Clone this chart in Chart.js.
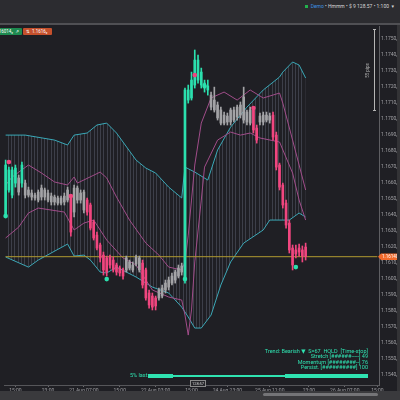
<!DOCTYPE html>
<html>
<head>
<meta charset="utf-8">
<script src="https://cdn.jsdelivr.net/npm/chart.js@4.4.0/dist/chart.umd.min.js"></script>
<style>
  html, body { margin: 0; padding: 0; background: #1f1f24; }
  #wrap { position: relative; width: 400px; height: 400px; overflow: hidden; font-family: Roboto, "DejaVu Sans", sans-serif; }
  #myChart { position: absolute; left: 0; top: 0; }
  .topbar { position: absolute; left: 0; top: 0; width: 400px; height: 23px; background: #2c2c30; border-bottom: 2px solid #505054; }
  .acct { position: absolute; right: 6px; top: 3px; font-size: 5px; color: #d8d8d8; white-space: nowrap; }
  .acct .sq { display: inline-block; width: 3px; height: 3px; background: #22b14c; margin-right: 3px; }
  .acct .demo { color: #3d8fe0; }
  .badge { position: absolute; top: 28px; height: 7px; line-height: 7px; font-size: 4.5px; color: #fff; border-radius: 1px; padding: 0 3px; white-space: nowrap; }
  .b1 { left: -14px; background: #1d8a50; width: 30px; text-align: right; }
  .b2 { left: 23px; background: #c5502c; width: 23px; }
  .ruler { position: absolute; left: 374px; top: 29px; width: 1px; height: 82px; background: #b5b5b5; }
  .ruler:before, .ruler:after { content: ""; position: absolute; left: -1px; width: 3px; height: 1px; background: #b5b5b5; }
  .ruler:before { top: 0; } .ruler:after { bottom: 0; }
  .pips { position: absolute; left: 360px; top: 68px; font-size: 4.5px; color: #b5b5b5; transform: rotate(-90deg); white-space: nowrap; }
  .stat { position: absolute; right: 32px; top: 349px; font-size: 5.5px; line-height: 5.4px; color: #2fe3b1; text-align: right; white-space: nowrap; }
  .last { position: absolute; left: 130px; top: 372px; font-size: 5.5px; color: #2fe3b1; }
  .strip { position: absolute; background: #2fe3b1; }
  .timer { position: absolute; left: 190px; top: 380px; width: 14px; height: 5px; border: 1px solid #8a8a8a; background: #26262a; font-size: 4px; line-height: 5px; color: #cfcfcf; text-align: center; }
  .bottom { position: absolute; left: 0; top: 391px; width: 400px; height: 9px; background: #3a3a3d; }
  .thumb { position: absolute; left: 263px; top: 393px; width: 115px; height: 3px; background: #747477; border-radius: 2px; }
  .vscroll { position: absolute; left: 397px; top: 25px; width: 3px; height: 366px; background: #333336; }
</style>
</head>
<body>
<div id="wrap">
  <canvas id="myChart" width="400" height="400"></canvas>
  <div class="topbar"></div>
  <div class="acct"><span class="sq"></span><span class="demo">Demo</span> • Hmmm • $ 9 128.57 • 1:100 &nbsp;▾</div>
  <div class="badge b1">1.16014₂ &nbsp;⇗</div>
  <div class="badge b2">⇅ &nbsp;1.1616₂</div>
  <div class="ruler"></div>
  <div class="pips">55 pips</div>
  <div class="vscroll"></div>
  <div class="stat">Trend: Bearish ▼ &nbsp;S=67 &nbsp;HOLD &nbsp;[Time-stop]<br>Stretch [######-----] 49<br>Momentum [########--] 76<br>Persist. [##########] 100</div>
  <div class="last">5% last</div>
  <div class="strip" style="left:148px; top:373.5px; width:25px; height:4px;"></div>
  <div class="strip" style="left:173px; top:374.5px; width:112px; height:2.5px;"></div>
  <div class="strip" style="left:285px; top:373.5px; width:83px; height:4px;"></div>
  <div class="bottom"></div>
  <div class="thumb"></div>
  <div class="timer">128:57</div>
</div>
<script>
// candles, left to right
const opens = [
  1.16400, 1.16557, 1.16525, 1.16600, 1.16632, 1.16600, 1.16600, 1.16557, 1.16538, 1.16525,
  1.16494, 1.16513, 1.16557, 1.16538, 1.16519, 1.16513, 1.16507, 1.16475, 1.16482, 1.16494,
  1.16513, 1.16419, 1.16569, 1.16494, 1.16544, 1.16494, 1.16463, 1.16357, 1.16275, 1.16213,
  1.16150, 1.16132, 1.16138, 1.16119, 1.16088, 1.16069, 1.16057, 1.16057, 1.16107, 1.16057,
  1.16094, 1.16132, 1.16100, 1.16057, 1.15913, 1.15894, 1.15882, 1.15882, 1.15894, 1.15932,
  1.15950, 1.15975, 1.15994, 1.16019, 1.16044, 1.15994, 1.17119, 1.17132, 1.17213, 1.17244,
  1.17213, 1.17194, 1.17182, 1.17150, 1.17119, 1.17088, 1.17057, 1.17025, 1.16982, 1.16982,
  1.17057, 1.17013, 1.17025, 1.16994, 1.17044, 1.16975, 1.17057, 1.16944, 1.16982, 1.17025,
  1.16994, 1.17019, 1.17025, 1.16900, 1.16713, 1.16588, 1.16475, 1.16350, 1.16194, 1.16182,
  1.16194, 1.16182, 1.16200
];
const closes = [
  1.16713, 1.16682, 1.16682, 1.16694, 1.16544, 1.16713, 1.16525, 1.16525, 1.16513, 1.16507,
  1.16544, 1.16569, 1.16513, 1.16494, 1.16482, 1.16482, 1.16475, 1.16507, 1.16519, 1.16557,
  1.16294, 1.16569, 1.16494, 1.16538, 1.16432, 1.16419, 1.16319, 1.16257, 1.16194, 1.16132,
  1.16057, 1.16044, 1.16088, 1.16057, 1.16044, 1.16038, 1.16019, 1.16132, 1.16069, 1.16088,
  1.16138, 1.16057, 1.15963, 1.15882, 1.15838, 1.15825, 1.15832, 1.15932, 1.15944, 1.15975,
  1.15994, 1.16019, 1.16044, 1.16069, 1.16082, 1.17182, 1.17182, 1.17244, 1.17369, 1.17369,
  1.17294, 1.17225, 1.17207, 1.17075, 1.17057, 1.17007, 1.16975, 1.16975, 1.17019, 1.17057,
  1.16994, 1.17075, 1.17088, 1.17138, 1.16982, 1.17057, 1.16932, 1.16869, 1.17019, 1.16982,
  1.17025, 1.16994, 1.16888, 1.16700, 1.16575, 1.16463, 1.16338, 1.16182, 1.16088, 1.16157,
  1.16169, 1.16144, 1.16140
];
const highs = [
  1.16744, 1.16700, 1.16700, 1.16713, 1.16650, 1.16732, 1.16619, 1.16575, 1.16557, 1.16538,
  1.16557, 1.16588, 1.16569, 1.16557, 1.16538, 1.16525, 1.16519, 1.16519, 1.16538, 1.16575,
  1.16525, 1.16588, 1.16582, 1.16557, 1.16557, 1.16507, 1.16475, 1.16369, 1.16294, 1.16225,
  1.16169, 1.16144, 1.16150, 1.16138, 1.16100, 1.16082, 1.16069, 1.16144, 1.16119, 1.16107,
  1.16150, 1.16144, 1.16119, 1.16069, 1.15932, 1.15913, 1.15894, 1.15944, 1.15963, 1.15994,
  1.16013, 1.16038, 1.16057, 1.16088, 1.16100, 1.17194, 1.17213, 1.17294, 1.17432, 1.17400,
  1.17319, 1.17244, 1.17244, 1.17169, 1.17200, 1.17107, 1.17075, 1.17044, 1.17038, 1.17069,
  1.17075, 1.17088, 1.17107, 1.17200, 1.17057, 1.17075, 1.17069, 1.16963, 1.17038, 1.17044,
  1.17044, 1.17038, 1.17044, 1.16919, 1.16725, 1.16600, 1.16494, 1.16369, 1.16213, 1.16213,
  1.16219, 1.16207, 1.16225
];
const lows = [
  1.16382, 1.16544, 1.16507, 1.16575, 1.16525, 1.16575, 1.16507, 1.16513, 1.16494, 1.16494,
  1.16482, 1.16494, 1.16494, 1.16482, 1.16463, 1.16463, 1.16463, 1.16463, 1.16463, 1.16482,
  1.16269, 1.16388, 1.16475, 1.16475, 1.16413, 1.16400, 1.16307, 1.16244, 1.16182, 1.16107,
  1.16025, 1.16019, 1.16069, 1.16044, 1.16025, 1.16019, 1.16000, 1.16044, 1.16057, 1.16044,
  1.16082, 1.16044, 1.15944, 1.15869, 1.15819, 1.15807, 1.15807, 1.15869, 1.15882, 1.15913,
  1.15932, 1.15963, 1.15975, 1.16007, 1.16025, 1.15975, 1.17100, 1.17119, 1.17194, 1.17225,
  1.17194, 1.17169, 1.17150, 1.17057, 1.17044, 1.16994, 1.16963, 1.16963, 1.16963, 1.16963,
  1.16982, 1.16994, 1.17007, 1.16975, 1.16963, 1.16963, 1.16913, 1.16850, 1.16963, 1.16963,
  1.16982, 1.16975, 1.16869, 1.16682, 1.16557, 1.16444, 1.16319, 1.16163, 1.16057, 1.16132,
  1.16144, 1.16107, 1.16119
];
// g = bull regime, n = neutral, p = bear regime
const regime = ('gggg' + 'n' + 'g' + 'nnnnnnnnnnnnnn' + 'p' + 'nnnn' + 'pppppppppppp' + 'nnnnn' +
  'ppppp' + 'nnnnnnnn' + 'gggggggg' + 'nnnnnnnnnnnnn' + 'pp' + 'nnnn' + 'ppppppppppp').split('');

// bands (candle index, price)
const upperOuterIdx = [0, 6, 15, 19, 21, 25, 28, 31, 34, 40, 43, 46, 50, 54, 55, 58, 62, 65, 69, 74, 79, 84, 85, 88, 90, 92];
const upperOuter = [1.16900, 1.16900, 1.16869, 1.16838, 1.16900, 1.16913, 1.16963, 1.16975, 1.16913, 1.16744, 1.16694, 1.16663, 1.16575,
  1.16507, 1.16700, 1.16669, 1.16619, 1.16807, 1.16950, 1.17075, 1.17182, 1.17263, 1.17294, 1.17357, 1.17338, 1.17257];
const lowerOuterIdx = [0, 7, 10, 19, 21, 24, 26, 29, 31, 34, 40, 45, 50, 54, 56, 58, 60, 63, 66, 69, 73, 79, 81, 87, 90, 92];
const lowerOuter = [1.16138, 1.16075, 1.16119, 1.16219, 1.16144, 1.16150, 1.16119, 1.16044, 1.16038, 1.16075, 1.16013, 1.15950, 1.15913,
  1.15825, 1.15763, 1.15694, 1.15694, 1.15775, 1.15963, 1.16107, 1.16225, 1.16307, 1.16369, 1.16369, 1.16413, 1.16388];
const upperInnerIdx = [0, 2, 7, 11, 15, 19, 21, 22, 29, 31, 34, 38, 43, 47, 50, 54, 55, 56, 57, 58, 60, 63, 67, 71, 75, 79, 84, 85, 88, 92];
const upperInner = [1.16588, 1.16638, 1.16713, 1.16663, 1.16607, 1.16588, 1.16638, 1.16600, 1.16669, 1.16632, 1.16513, 1.16369, 1.16225,
  1.16150, 1.16075, 1.16057, 1.16107, 1.16275, 1.16494, 1.16713, 1.16975, 1.17132, 1.17169, 1.17119, 1.17182, 1.17132, 1.17163, 1.17100,
  1.16869, 1.16557];
const lowerInnerIdx = [0, 4, 7, 10, 18, 21, 24, 27, 31, 36, 40, 45, 50, 54, 55, 56, 57, 58, 60, 61, 65, 69, 72, 75, 78, 84, 88, 90, 92];
const lowerInner = [1.16257, 1.16325, 1.16413, 1.16444, 1.16419, 1.16307, 1.16350, 1.16369, 1.16244, 1.16132, 1.16088, 1.15932, 1.15888,
  1.15869, 1.15775, 1.15650, 1.15807, 1.16107, 1.16494, 1.16700, 1.16869, 1.16919, 1.16900, 1.16913, 1.16882, 1.16857, 1.16663, 1.16494,
  1.16369];

// signal dots
const buyIdx = [0, 31, 55, 61, 89];
const buyVal = [1.16394, 1.16000, 1.16000, 1.17207, 1.16075];
const sellIdx = [1, 20, 58, 76];
const sellVal = [1.16732, 1.16519, 1.17275, 1.17069];

const lastPrice = 1.16140;

// time axis
const slots = 115;
const tickIdx = [3, 13, 24, 35, 46, 57, 68, 81, 93, 104, 114];
const tickText = ['15:00', '23:00', '21 Aug 07:00', '15:00', '22 Aug 03:00', '15:00', '24 Aug 23:00',
  '25 Aug 11:00', '23:00', '26 Aug 07:00', '15:00'];

const colors = { g: '#2be0ae', n: '#a3a3a6', p: '#f0467f' };
const cyan = '#3aa9b8';
const magenta = '#a14d8a';
const gold = '#b09a30';

function pts(idx, vals) {
  return idx.map((x, i) => ({ x: x, y: vals[i] }));
}

function makeHatch() {
  const c = document.createElement('canvas');
  c.width = 33; c.height = 2;
  const g = c.getContext('2d');
  g.fillStyle = 'rgba(125,132,150,0.33)';
  for (let k = 0; k < 10; k++) g.fillRect(Math.floor(k * 3.3 + 1.6), 0, 1, 2);
  return g.createPattern(c, 'repeat');
}

// price tag on the right axis
const priceTag = {
  id: 'priceTag',
  afterDraw(chart) {
    const c = chart.ctx;
    const a = chart.chartArea;
    const py = chart.scales.y.getPixelForValue(lastPrice);
    c.save();
    c.fillStyle = '#f26a2b';
    c.beginPath();
    c.moveTo(a.right - 1, py);
    c.lineTo(a.right + 2, py - 3.2);
    c.lineTo(a.right + 18, py - 3.2);
    c.lineTo(a.right + 18, py + 3.2);
    c.lineTo(a.right + 2, py + 3.2);
    c.closePath();
    c.fill();
    c.fillStyle = '#ffffff';
    c.font = '4.5px Roboto';
    c.textBaseline = 'middle';
    c.fillText(lastPrice.toFixed(5), a.right + 3, py + 0.3);
    c.restore();
  }
};

const band = { type: 'line', pointRadius: 0, borderWidth: 1, tension: 0 };

new Chart(document.getElementById('myChart'), {
  type: 'bar',
  data: {
    labels: Array.from({ length: slots }, (_, i) => i),
    datasets: [
      { ...band, data: pts(upperOuterIdx, upperOuter), borderColor: cyan, fill: '+1', backgroundColor: makeHatch(), order: 6 },
      { ...band, data: pts(lowerOuterIdx, lowerOuter), borderColor: cyan, fill: false, order: 6 },
      { ...band, data: pts(upperInnerIdx, upperInner), borderColor: magenta, fill: false, order: 5 },
      { ...band, data: pts(lowerInnerIdx, lowerInner), borderColor: magenta, fill: false, order: 5 },
      { ...band, data: [{ x: 0, y: lastPrice }, { x: slots - 1, y: lastPrice }], borderColor: gold, fill: false, order: 4 },
      {
        data: lows.map((l, i) => [l, highs[i]]),
        backgroundColor: regime.map(r => colors[r]),
        borderWidth: 0, barThickness: 1, grouped: false, order: 3
      },
      {
        data: opens.map((o, i) => [o, closes[i]]),
        backgroundColor: regime.map(r => colors[r]),
        borderWidth: 0, barThickness: 2, grouped: false, minBarLength: 1, order: 2
      },
      { type: 'line', showLine: false, data: pts(buyIdx, buyVal), pointRadius: 2.3, pointBorderWidth: 0, pointBackgroundColor: '#2be0ae', order: 1 },
      { type: 'line', showLine: false, data: pts(sellIdx, sellVal), pointRadius: 2.3, pointBorderWidth: 0, pointBackgroundColor: '#f0467f', order: 1 }
    ]
  },
  options: {
    responsive: false,
    animation: false,
    layout: { padding: { top: 26, left: 0, right: 0, bottom: 0 } },
    plugins: { legend: { display: false }, tooltip: { enabled: false } },
    scales: {
      x: {
        type: 'category',
        offset: true,
        afterFit: s => { s.height = 15; },
        grid: {
          display: true, drawOnChartArea: false, drawTicks: true, tickLength: 2, offset: false,
          color: c => tickIdx.includes(c.index) ? '#6a6a6e' : 'rgba(0,0,0,0)'
        },
        border: { display: true, color: '#56565a' },
        ticks: {
          autoSkip: false, maxRotation: 0, padding: 1, color: '#9c9ca0', font: { size: 5, family: 'Roboto' },
          callback: (v, i) => { const k = tickIdx.indexOf(i); return k >= 0 ? tickText[k] : ''; }
        }
      },
      y: {
        position: 'right',
        min: 1.15338,
        max: 1.17582,
        afterFit: s => { s.width = 21; },
        grid: { display: false, drawTicks: false },
        border: { display: true, color: '#5e5e62' },
        ticks: {
          stepSize: 0.001, includeBounds: false, padding: 2, color: '#a0a0a4', font: { size: 5, family: 'Roboto' },
          callback: v => v.toFixed(4) + '₀'
        }
      }
    }
  },
  plugins: [priceTag]
});
</script>
</body>
</html>
